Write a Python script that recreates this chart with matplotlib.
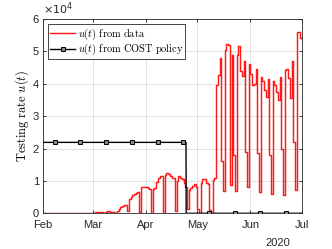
import numpy as np
import pandas as pd
import matplotlib
matplotlib.use("Agg")
import matplotlib.pyplot as plt
import matplotlib.dates as mdates

# ---- data (units of 1e4 tests/day), daily from 2020-02-01 ----
start_date = "2020-02-01"
u_data = [
    # Feb 1 - Feb 29 (days 0-28)
    0, 0, 0, 0, 0, 0, 0, 0, 0, 0, 0, 0, 0, 0, 0, 0, 0, 0, 0, 0,
    0, 0, 0, 0, 0, 0, 0, 0, 0,
    # days 29-49
    0.02, 0.03, 0.03, 0.04, 0.02, 0.03, 0.0,
    0.05, 0.06, 0.07, 0.05, 0.04, 0.05, 0.0,
    0.08, 0.12, 0.18, 0.22, 0.27, 0.25, 0.08,
    # days 50-98
    0.45, 0.50, 0.55, 0.60, 0.62, 0.67, 0.05,
    0.82, 0.82, 0.80, 0.82, 0.78, 0.75, 0.0,
    0.75, 0.78, 0.98, 1.08, 1.15, 1.15, 0.0,
    1.18, 1.25, 1.22, 1.15, 1.10, 1.10, 0.08,
    1.00, 1.15, 1.10, 1.05, 0.95, 0.80, 0.12,
    0.72, 0.78, 0.85, 0.90, 0.80, 0.12, 0.02,
    0.95, 1.05, 1.05, 0.95, 0.90, 0.10, 0.0,
    # days 99-147
    1.03, 1.10, 3.96, 4.28, 4.79, 1.60, 0.68,
    5.05, 5.22, 5.20, 0.88, 4.90, 1.81, 0.68,
    4.90, 5.18, 4.40, 4.25, 4.70, 1.90, 0.82,
    4.60, 4.30, 3.95, 4.00, 4.45, 1.85, 0.67,
    4.22, 4.10, 3.80, 3.60, 4.15, 1.80, 0.60,
    4.07, 3.96, 3.75, 3.50, 4.20, 2.00, 0.57,
    4.43, 4.45, 4.17, 3.55, 4.70, 2.20, 0.72,
    # days 148-151
    5.60, 5.60, 5.40, 5.35,
]
policy_level = 2.19          # x1e4, COST policy before switch
policy_switch_day = 83.5     # days after start when policy drops to 0
policy_end_day = 151
marker_first_day = 6.8
marker_spacing_days = 15

x_ticklabels = ["Feb", "Mar", "Apr", "May", "Jun", "Jul"]
y_ticks = [0, 1, 2, 3, 4, 5, 6]

# ---- build series ----
t0 = pd.Timestamp(start_date)
dates = pd.date_range(start_date, periods=len(u_data), freq="D")
u = np.array(u_data) * 1e4

step = 0.1
t_pol = np.arange(0, policy_end_day + step / 2, step)
u_pol = np.where(t_pol < policy_switch_day, policy_level * 1e4, 0.0)
dates_pol = t0 + pd.to_timedelta(t_pol, unit="D")
mk_start = int(round(marker_first_day / step))
mk_every = int(round(marker_spacing_days / step))

plt.rcParams["mathtext.fontset"] = "cm"
plt.rcParams["font.family"] = ["Liberation Sans", "DejaVu Sans"]

fig = plt.figure(figsize=(3.32, 2.49), dpi=100)
ax = fig.add_axes([0.130, 0.1434, 0.779, 0.7803])

ax.step(dates, u, where="post", color="#ff1a1a", lw=1.05,
        label=r"$u(t)\ \mathrm{from\ data}$", zorder=3)
ax.plot(dates_pol, u_pol, color="black", lw=1.0, marker="s", markersize=3.2,
        markerfacecolor="#888888", markeredgecolor="black", markeredgewidth=0.7,
        markevery=(mk_start, mk_every),
        label=r"$u(t)\ \mathrm{from\ COST\ policy}$", zorder=4)

ax.set_xlim(t0, t0 + pd.Timedelta(days=policy_end_day))
ax.set_ylim(0, 6e4)
ax.xaxis.set_major_locator(mdates.MonthLocator())
ax.set_xticks(ax.get_xticks())
ax.set_xticklabels(x_ticklabels)
ax.set_yticks([v * 1e4 for v in y_ticks])
ax.set_yticklabels([str(v) for v in y_ticks])

ax.grid(True, color="#dcdcdc", lw=0.6)
ax.set_axisbelow(True)
ax.tick_params(direction="in", length=2.5, width=0.6, labelsize=8, top=True,
               right=True, colors="#262626")
ax.tick_params(axis="x", pad=5)
ax.tick_params(axis="y", pad=3)
for s in ax.spines.values():
    s.set_color("#262626")
    s.set_linewidth(0.6)

ax.set_ylabel(r"$\mathrm{Testing\ rate\ }u(t)$", fontsize=9, labelpad=1)
ax.text(0.0, 1.012, r"$\times10^{4}$", transform=ax.transAxes, fontsize=8,
        math_fontfamily="dejavusans", ha="left", va="bottom", color="#262626")
ax.text(0.955, -0.125, "2020", transform=ax.transAxes, fontsize=8,
        ha="right", va="top", color="#262626")

leg = ax.legend(loc="upper left", fontsize=7.5, frameon=True, fancybox=False,
                edgecolor="#262626", framealpha=1, borderpad=0.2,
                handlelength=2.4, handletextpad=0.2, labelspacing=0.05,
                borderaxespad=0.5)
leg.get_frame().set_linewidth(0.6)

fig.savefig("out.png", dpi=100)
